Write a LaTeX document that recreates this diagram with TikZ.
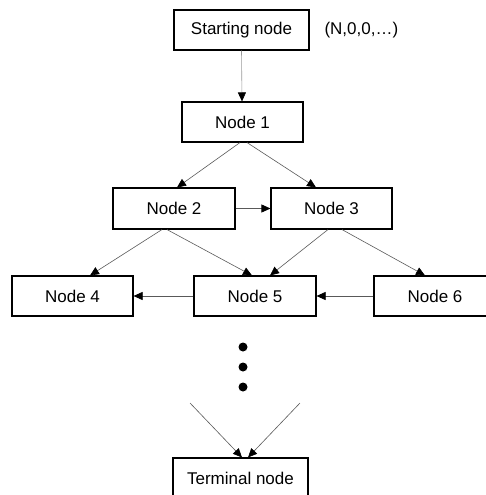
\documentclass[tikz,border=0pt]{standalone}
\usepackage{fontspec}
\setmainfont{Liberation Sans}
\usetikzlibrary{arrows.meta,calc}
\begin{document}
\begin{tikzpicture}[x=1pt,y=-1pt,
  box/.style={draw=black,line width=1.1pt,minimum height=40pt,inner sep=0pt,
    font=\fontsize{17}{20}\selectfont},
  link/.style={draw=black!65,line width=0.6pt,
    -{Triangle[length=9pt,width=8pt,color=black,fill=black]}},
  dot/.style={circle,fill=black,minimum size=9pt,inner sep=0pt}]
\useasboundingbox (0,0) rectangle (486,495);
\clip (0,0) rectangle (486,495);

% boxes
\node[box,minimum width=135pt] (start) at (241.5,30) {Starting node};
\node[anchor=west,font=\fontsize{17}{20}\selectfont] (state) at (321,30) {(N,0,0,\dots)};
\node[box,minimum width=121pt] (n1) at (242.5,122) {Node 1};
\node[box,minimum width=122pt,minimum height=41pt] (n2) at (174,208.5) {Node 2};
\node[box,minimum width=121pt,minimum height=41pt] (n3) at (331.5,208.5) {Node 3};
\node[box,minimum width=121pt] (n4) at (72.5,296) {Node 4};
\node[box,minimum width=122pt] (n5) at (255,296) {Node 5};
\node[box,minimum width=122pt] (n6) at (435,296) {Node 6};
\node[box,minimum width=135pt] (term) at (240.5,478) {Terminal node};

% continuation dots
\node[dot] (d1) at (243,347) {};
\node[dot] (d2) at (243,367) {};
\node[dot] (d3) at (243,387) {};
\coordinate (inL) at (190,403);
\coordinate (inR) at (300,403);

% connectors
\draw[link,draw=black!40] (start.south) -- ([xshift=-0.5pt]n1.north);
\draw[link] ([xshift=-2.5pt]n1.south) -- ([xshift=3pt]n2.north);
\draw[link] ([xshift=4.5pt]n1.south) -- ([xshift=-15.5pt]n3.north);
\draw[link] (n2.east) -- (n3.west);
\draw[link] ([xshift=-12pt]n2.south) -- ([xshift=17.5pt]n4.north);
\draw[link] ([xshift=-7pt]n2.south) -- ([xshift=-3pt]n5.north);
\draw[link] ([xshift=-3.5pt]n3.south) -- ([xshift=15pt]n5.north);
\draw[link] ([xshift=10.5pt]n3.south) -- ([xshift=-10pt]n6.north);
\draw[link] (n5.west) -- (n4.east);
\draw[link] (n6.west) -- (n5.east);
\draw[link] (inL) -- ([xshift=1.5pt]term.north);
\draw[link] (inR) -- ([xshift=7.5pt]term.north);
\end{tikzpicture}
\end{document}
